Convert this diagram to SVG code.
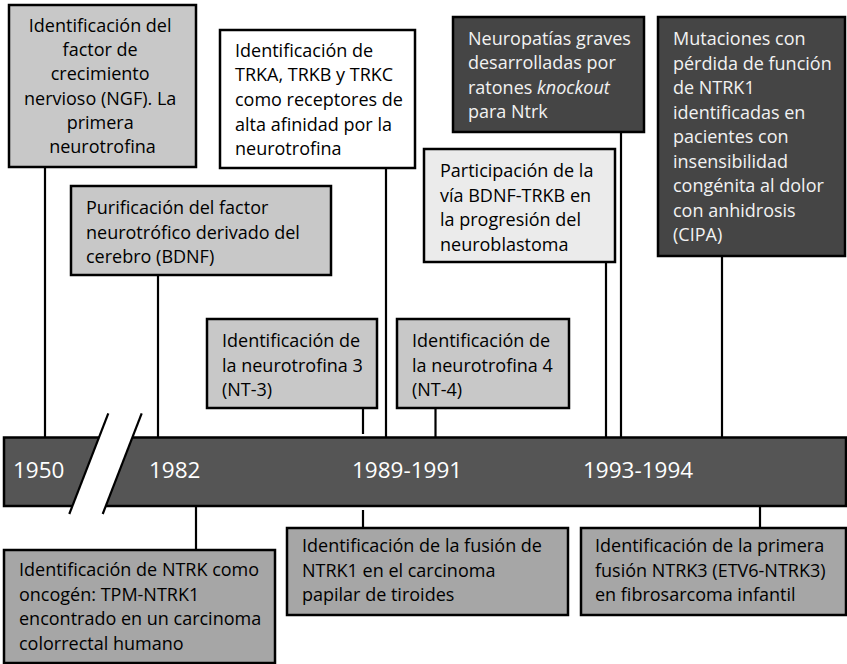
<svg xmlns="http://www.w3.org/2000/svg" width="847" height="664" viewBox="0 0 847 664">
<style>
.bx{stroke:#000;stroke-width:2.5}
.light{fill:#c8c8c8}
.white{fill:#fff}
.dark{fill:#454545}
.pale{fill:#ebebeb}
.mid{fill:#a6a6a6}
.t{font-family:"Open Sans","Liberation Sans",sans-serif;font-size:18px;fill:#000}
.tw{font-family:"Open Sans","Liberation Sans",sans-serif;font-size:18px;fill:#f2f2f2}
.yr{font-family:"Open Sans","Liberation Sans",sans-serif;font-size:22.5px;fill:#fff}
.c{stroke:#000;stroke-width:2.2;fill:none}
</style>
<rect width="847" height="664" fill="#fff"/>
<g id="connectors">
<line class="c" x1="45" y1="167" x2="45" y2="438"/>
<line class="c" x1="386" y1="168" x2="386" y2="438"/>
<line class="c" x1="158" y1="275" x2="158" y2="438"/>
<line class="c" x1="621" y1="132" x2="621" y2="438"/>
<line class="c" x1="606" y1="262" x2="606" y2="438"/>
<line class="c" x1="722" y1="256" x2="722" y2="438"/>
<line class="c" x1="363" y1="408" x2="363" y2="434"/>
<line class="c" x1="435.5" y1="408" x2="435.5" y2="438"/>
<line class="c" x1="196" y1="506" x2="196" y2="550"/>
<line class="c" x1="363" y1="510" x2="363" y2="528"/>
<line class="c" x1="760" y1="506" x2="760" y2="528"/>
</g>
<g id="timeline">
<rect class="bx" x="4" y="437.5" width="842" height="68.5" fill="#555"/>
<polygon points="108.3,413.3 141.7,413.3 102.7,514 69.3,514" fill="#fff"/>
<line class="c" stroke-width="2.5" x1="108.3" y1="413.3" x2="69.3" y2="514"/>
<line class="c" stroke-width="2.5" x1="141.7" y1="413.3" x2="102.7" y2="514"/>
<text class="yr" x="13" y="478">1950</text>
<text class="yr" x="149" y="478">1982</text>
<text class="yr" x="352" y="478">1989-1991</text>
<text class="yr" x="583" y="478">1993-1994</text>
</g>
<g id="ngf">
<rect class="bx light" x="9" y="5" width="187" height="162"/>
<text class="t" text-anchor="middle">
<tspan x="102.5" y="32">Identificación del</tspan>
<tspan x="102.5" y="56.2">factor de</tspan>
<tspan x="102.5" y="80.4">crecimiento</tspan>
<tspan x="102.5" y="104.6">nervioso (NGF). La</tspan>
<tspan x="102.5" y="128.8">primera</tspan>
<tspan x="102.5" y="153">neurotrofina</tspan>
</text>
</g>
<g id="trk">
<rect class="bx white" x="220" y="30" width="195" height="138"/>
<text class="t">
<tspan x="235" y="56.7">Identificación de</tspan>
<tspan x="235" y="81.3">TRKA, TRKB y TRKC</tspan>
<tspan x="235" y="105.9">como receptores de</tspan>
<tspan x="235" y="130.5">alta afinidad por la</tspan>
<tspan x="235" y="155.1">neurotrofina</tspan>
</text>
</g>
<g id="bdnf">
<rect class="bx light" x="71" y="186" width="260" height="89"/>
<text class="t">
<tspan x="86" y="214">Purificación del factor</tspan>
<tspan x="86" y="238.5">neurotrófico derivado del</tspan>
<tspan x="86" y="263">cerebro (BDNF)</tspan>
</text>
</g>
<g id="knockout">
<rect class="bx dark" x="453" y="17" width="191" height="115"/>
<text class="tw">
<tspan x="468" y="44.5">Neuropatías graves</tspan>
<tspan x="468" y="69">desarrolladas por</tspan>
<tspan x="468" y="93.5">ratones <tspan font-style="italic">knockout</tspan></tspan>
<tspan x="468" y="118">para Ntrk</tspan>
</text>
</g>
<g id="neuroblastoma">
<rect class="bx pale" x="424" y="149" width="191" height="113"/>
<text class="t">
<tspan x="440" y="177">Participación de la</tspan>
<tspan x="440" y="201.5">vía BDNF-TRKB en</tspan>
<tspan x="440" y="226">la progresión del</tspan>
<tspan x="440" y="250.5">neuroblastoma</tspan>
</text>
</g>
<g id="cipa">
<rect class="bx dark" x="658" y="17" width="187" height="239"/>
<text class="tw">
<tspan x="673" y="45">Mutaciones con</tspan>
<tspan x="673" y="69.5">pérdida de función</tspan>
<tspan x="673" y="94">de NTRK1</tspan>
<tspan x="673" y="118.5">identificadas en</tspan>
<tspan x="673" y="143">pacientes con</tspan>
<tspan x="673" y="167.5">insensibilidad</tspan>
<tspan x="673" y="192">congénita al dolor</tspan>
<tspan x="673" y="216.5">con anhidrosis</tspan>
<tspan x="673" y="241">(CIPA)</tspan>
</text>
</g>
<g id="nt3">
<rect class="bx light" x="207" y="319" width="170" height="89"/>
<text class="t">
<tspan x="222" y="347">Identificación de</tspan>
<tspan x="222" y="371.5">la neurotrofina 3</tspan>
<tspan x="222" y="396">(NT-3)</tspan>
</text>
</g>
<g id="nt4">
<rect class="bx light" x="397" y="319" width="172" height="89"/>
<text class="t">
<tspan x="412" y="347">Identificación de</tspan>
<tspan x="412" y="371.5">la neurotrofina 4</tspan>
<tspan x="412" y="396">(NT-4)</tspan>
</text>
</g>
<g id="oncogen">
<rect class="bx mid" x="4" y="550" width="271" height="113"/>
<text class="t">
<tspan x="19" y="576">Identificación de NTRK como</tspan>
<tspan x="19" y="600.5">oncogén: TPM-NTRK1</tspan>
<tspan x="19" y="625">encontrado en un carcinoma</tspan>
<tspan x="19" y="649.5">colorrectal humano</tspan>
</text>
</g>
<g id="tiroides">
<rect class="bx mid" x="287" y="528" width="281" height="87"/>
<text class="t">
<tspan x="302" y="552">Identificación de la fusión de</tspan>
<tspan x="302" y="576.5">NTRK1 en el carcinoma</tspan>
<tspan x="302" y="601">papilar de tiroides</tspan>
</text>
</g>
<g id="etv6">
<rect class="bx mid" x="581" y="528" width="265" height="87"/>
<text class="t">
<tspan x="595" y="552">Identificación de la primera</tspan>
<tspan x="595" y="576.5">fusión NTRK3 (ETV6-NTRK3)</tspan>
<tspan x="595" y="601">en fibrosarcoma infantil</tspan>
</text>
</g>
</svg>
